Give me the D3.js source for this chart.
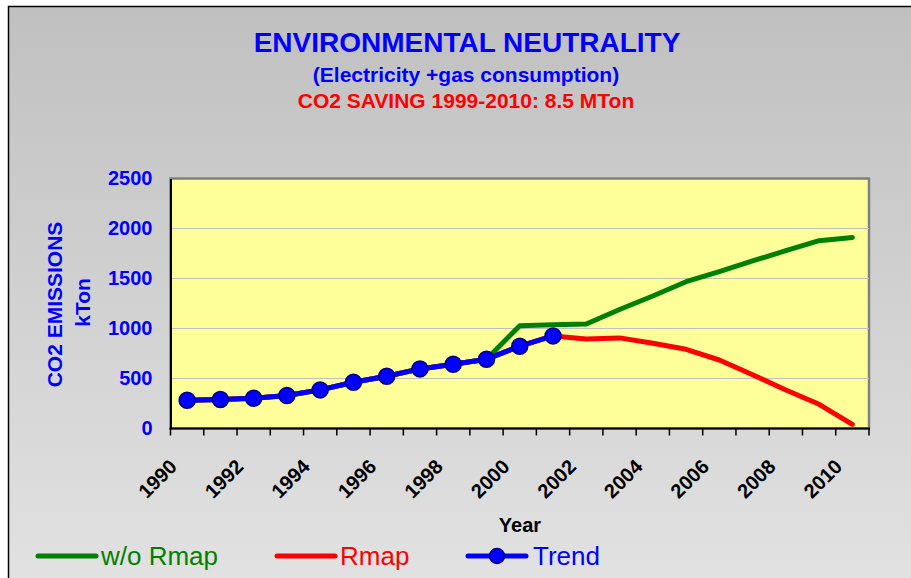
<!DOCTYPE html>
<html lang="en">
<head>
<meta charset="utf-8">
<title>Environmental neutrality</title>
<script src="https://d3js.org/d3.v7.min.js"></script>
<style>
    body { margin: 0; background: #fff; }
    text { font-family: "Liberation Sans", Arial, sans-serif; }
    .grid line { stroke: #c0c0c0; stroke-width: 1; }
</style>
</head>
<body>
<div id="chart"></div>
<script>
    // data (kTon CO2)
    var years = d3.range(1990, 2011);
    var trendYears = [1990, 1991, 1992, 1993, 1994, 1995, 1996, 1997, 1998, 1999, 2000, 2001];
    var trendValues = [283, 290, 303, 330, 386, 463, 523, 596, 643, 693, 823, 926];
    var woRmapValues = [283, 290, 303, 330, 386, 463, 523, 596, 643, 693, 1028, 1038, 1045, 1190, 1325, 1468, 1568, 1676, 1778, 1878, 1910];
    var rmapValues = [283, 290, 303, 330, 386, 463, 523, 596, 643, 693, 823, 926, 895, 906, 852, 792, 685, 538, 385, 242, 42];
    var yTicks = [0, 500, 1000, 1500, 2000, 2500];
    var xLabels = [1990, 1992, 1994, 1996, 1998, 2000, 2002, 2004, 2006, 2008, 2010];

    var W = 911, H = 578;
    var plot = {left: 170.5, right: 869, top: 178.5, bottom: 428.5};

    var svg = d3.select("#chart").append("svg")
        .attr("width", W).attr("height", H);

    var grad = svg.append("defs").append("linearGradient")
        .attr("id", "bg").attr("x1", 0).attr("y1", 0).attr("x2", 0).attr("y2", 1);
    grad.append("stop").attr("offset", "0%").attr("stop-color", "#c0c0c0");
    grad.append("stop").attr("offset", "100%").attr("stop-color", "#e3e3e3");

    // outer chart frame (cropped at right and bottom)
    svg.append("rect")
        .attr("x", 8.5).attr("y", 6.5)
        .attr("width", W + 20).attr("height", H + 20)
        .attr("fill", "url(#bg)")
        .attr("stroke", "#000").attr("stroke-width", 1.5);

    var x = d3.scaleBand().domain(years).range([plot.left, plot.right]).padding(0);
    var y = d3.scaleLinear().domain([0, 2500]).range([plot.bottom, plot.top]);
    var cx = function(yr) { return x(yr) + x.bandwidth() / 2 };

    // plot area
    svg.append("rect")
        .attr("x", plot.left).attr("y", plot.top)
        .attr("width", plot.right - plot.left).attr("height", plot.bottom - plot.top)
        .attr("fill", "#ffff99")
        .attr("stroke", "#808080").attr("stroke-width", 2.5);

    svg.append("g").attr("class", "grid")
        .selectAll("line")
        .data(yTicks.slice(1, -1))
        .enter()
        .append("line")
            .attr("x1", plot.left).attr("x2", plot.right)
            .attr("y1", function(d) { return y(d) })
            .attr("y2", function(d) { return y(d) });

    // y axis
    var yAxis = svg.append("g")
        .attr("transform", "translate(" + plot.left + ",0)")
        .call(d3.axisLeft(y).tickValues(yTicks).tickFormat(d3.format("d")).tickSize(0).tickPadding(18));
    yAxis.select(".domain").attr("stroke", "#000").attr("stroke-width", 2);
    yAxis.selectAll("text")
        .attr("fill", "#0000ff")
        .style("font-size", "20px").style("font-weight", "bold")
        .style("font-family", "'Liberation Sans', Arial, sans-serif");

    // x axis: ticks between categories
    var tickPos = years.map(function(d) { return x(d) }).concat([plot.right]);
    svg.append("g").selectAll("line")
        .data(tickPos)
        .enter()
        .append("line")
            .attr("x1", function(d) { return d }).attr("x2", function(d) { return d })
            .attr("y1", plot.bottom).attr("y2", plot.bottom + 7)
            .attr("stroke", "#000").attr("stroke-width", 1.5);
    svg.append("line")
        .attr("x1", plot.left - 1).attr("x2", plot.right + 1)
        .attr("y1", plot.bottom).attr("y2", plot.bottom)
        .attr("stroke", "#000").attr("stroke-width", 2);

    svg.append("g").selectAll("text")
        .data(xLabels)
        .enter()
        .append("text")
            .attr("transform", function(d) { return "translate(" + (cx(d) - 9) + "," + 468 + ") rotate(-45)" })
            .attr("text-anchor", "end")
            .style("font-size", "20px").style("font-weight", "bold")
            .attr("fill", "#000")
            .text(function(d) { return d });

    // series
    var line = d3.line()
        .x(function(d) { return cx(d[0]) })
        .y(function(d) { return y(d[1]) });

    svg.append("path")
        .datum(d3.zip(years, woRmapValues))
        .attr("d", line)
        .attr("fill", "none").attr("stroke", "#008000").attr("stroke-width", 5)
        .attr("stroke-linejoin", "round").attr("stroke-linecap", "round");
    svg.append("path")
        .datum(d3.zip(years, rmapValues))
        .attr("d", line)
        .attr("fill", "none").attr("stroke", "#ff0000").attr("stroke-width", 5)
        .attr("stroke-linejoin", "round").attr("stroke-linecap", "round");
    svg.append("path")
        .datum(d3.zip(trendYears, trendValues))
        .attr("d", line)
        .attr("fill", "none").attr("stroke", "#0000ff").attr("stroke-width", 5)
        .attr("stroke-linejoin", "round");
    svg.append("g").selectAll("circle")
        .data(d3.zip(trendYears, trendValues))
        .enter()
        .append("circle")
            .attr("cx", function(d) { return cx(d[0]) })
            .attr("cy", function(d) { return y(d[1]) })
            .attr("r", 8)
            .attr("fill", "#0000ff").attr("stroke", "#000080").attr("stroke-width", 1.5);

    // titles
    svg.append("text").attr("x", 467).attr("y", 51.5).attr("text-anchor", "middle")
        .attr("fill", "#0000ff").style("font-size", "28px").style("font-weight", "bold")
        .text("ENVIRONMENTAL NEUTRALITY");
    svg.append("text").attr("x", 466).attr("y", 81.5).attr("text-anchor", "middle")
        .attr("fill", "#0000ff").style("font-size", "21px").style("font-weight", "bold")
        .text("(Electricity +gas consumption)");
    svg.append("text").attr("x", 466).attr("y", 108).attr("text-anchor", "middle")
        .attr("fill", "#ff0000").style("font-size", "21px").style("font-weight", "bold")
        .text("CO2 SAVING 1999-2010: 8.5 MTon");

    svg.append("text").attr("transform", "translate(62,304.5) rotate(-90)").attr("text-anchor", "middle")
        .attr("fill", "#0000ff").style("font-size", "21px").style("font-weight", "bold")
        .text("CO2 EMISSIONS");
    svg.append("text").attr("transform", "translate(90,302.5) rotate(-90)").attr("text-anchor", "middle")
        .attr("fill", "#0000ff").style("font-size", "21px").style("font-weight", "bold")
        .text("kTon");

    svg.append("text").attr("x", 520).attr("y", 531.5).attr("text-anchor", "middle")
        .attr("fill", "#000").style("font-size", "20px").style("font-weight", "bold")
        .text("Year");

    // legend
    var legend = [
        {name: "w/o Rmap", color: "#008000", x: 38, marker: false},
        {name: "Rmap", color: "#ff0000", x: 277, marker: false},
        {name: "Trend", color: "#0000ff", x: 468, marker: true}
    ];
    var lg = svg.append("g").selectAll("g")
        .data(legend)
        .enter()
        .append("g")
            .attr("transform", function(d) { return "translate(" + d.x + ",556)" });
    lg.append("line")
        .attr("x1", 0).attr("x2", 58).attr("y1", 0).attr("y2", 0)
        .attr("stroke", function(d) { return d.color }).attr("stroke-width", 5)
        .attr("stroke-linecap", "round");
    lg.filter(function(d) { return d.marker })
        .append("circle")
            .attr("cx", 29).attr("cy", 0).attr("r", 7.5)
            .attr("fill", "#0000ff").attr("stroke", "#000080").attr("stroke-width", 1.5);
    lg.append("text")
        .attr("x", function(d) { return d.marker ? 65 : 63 }).attr("y", 9)
        .attr("fill", function(d) { return d.color })
        .style("font-size", "26px")
        .text(function(d) { return d.name });
</script>
</body>
</html>
